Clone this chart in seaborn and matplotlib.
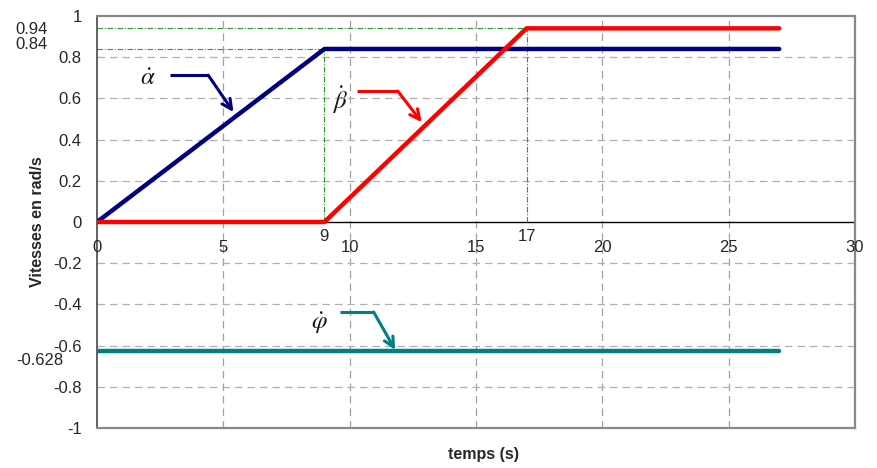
import matplotlib
matplotlib.use("Agg")
import matplotlib.pyplot as plt
import seaborn as sns
import pandas as pd

# ---- data ----
alpha_t = [0, 9, 27]
alpha_v = [0, 0.84, 0.84]
beta_t = [0, 9, 17, 27]
beta_v = [0, 0, 0.94, 0.94]
phi_t = [0, 27]
phi_v = [-0.628, -0.628]
series_names = ["alpha", "beta", "phi"]
series_colors = ["#000080", "#ff0000", "#008080"]
x_ticks = [0, 5, 10, 15, 20, 25, 30]
y_ticks = [-1, -0.8, -0.6, -0.4, -0.2, 0, 0.2, 0.4, 0.6, 0.8, 1]
extra_x = [9, 17]
extra_y_labels = ["0.94", "0.84", "-0.628"]

sns.set_style("white")
plt.rcParams["font.family"] = ["Liberation Sans", "DejaVu Sans"]
plt.rcParams["mathtext.fontset"] = "stix"

df = pd.concat([
    pd.DataFrame({"t": alpha_t, "v": alpha_v, "s": "alpha"}),
    pd.DataFrame({"t": beta_t, "v": beta_v, "s": "beta"}),
    pd.DataFrame({"t": phi_t, "v": phi_v, "s": "phi"}),
])

FS = 12
fig = plt.figure(figsize=(8.78, 4.68), dpi=100)
ax = fig.add_axes([97 / 878, 1 - 428 / 468, (855 - 97) / 878, (428 - 16) / 468])

ax.set_xlim(0, 30)
ax.set_ylim(-1, 1)

# grid
for x in x_ticks[1:-1]:
    ax.axvline(x, color="#a0a0a0", lw=0.9, ls=(0, (6, 4)), zorder=1)
for y in y_ticks[1:-1]:
    if y != 0:
        ax.axhline(y, color="#b0b0b0", lw=0.9, ls=(0, (6, 4)), zorder=1)
ax.axhline(0, color="black", lw=1.0, zorder=2)

# green reference lines
gkw = dict(color="#2e9a2e", lw=0.8, ls=(0, (5, 1.5, 1, 1.5)), zorder=2)
ax.plot([0, 9], [0.84, 0.84], **gkw)
ax.plot([9, 9], [0, 0.84], **gkw)
ax.plot([0, 17.4], [0.94, 0.94], **gkw)
ax.plot([17, 17], [0, 0.94], **gkw)

sns.lineplot(data=df, x="t", y="v", hue="s", palette=dict(zip(series_names, series_colors)),
             linewidth=3.2, legend=False, ax=ax, zorder=3, sort=False)

# spines
for sp in ax.spines.values():
    sp.set_color("#888888")
    sp.set_linewidth(1.6)
ax.spines["left"].set_color("#555555")
ax.spines["left"].set_linewidth(1.3)

ax.set_yticks(y_ticks)
ax.set_yticklabels([("%g" % v) for v in y_ticks])
ax.tick_params(axis="y", length=4, width=1, color="#555555", labelsize=FS, pad=7, direction="out")
ax.set_xticks([])
ax.set_xlabel("")
ax.set_ylabel("Vitesses en rad/s", fontsize=11.5, fontweight="bold", labelpad=6)

# x tick labels along y=0
for x in x_ticks:
    ax.text(x, -0.085, "%d" % x, ha="center", va="top", fontsize=FS)
for x in extra_x:
    ax.text(x, -0.035, "%d" % x, ha="center", va="top", fontsize=FS)

# extra y labels
ax.text(-1.95, 0.935, extra_y_labels[0], ha="right", va="center", fontsize=FS)
ax.text(-1.95, 0.862, extra_y_labels[1], ha="right", va="center", fontsize=FS)
ax.text(-1.35, -0.67, extra_y_labels[2], ha="right", va="center", fontsize=FS)

fig.text((97 + 855) / 2 / 878 + 0.008, 1 - 455 / 468, "temps (s)", ha="center", va="center",
         fontsize=11.5, fontweight="bold")

# annotations
def callout(label, lab_xy, p0, p1, p2, color):
    ax.text(lab_xy[0], lab_xy[1], label, fontsize=18, ha="center", va="center", color="#1a1a1a", zorder=5)
    ax.plot([p0[0], p1[0]], [p0[1], p1[1]], color=color, lw=2.2, solid_capstyle="butt", zorder=4)
    ax.annotate("", xy=p2, xytext=p1,
                arrowprops=dict(arrowstyle="->,head_length=0.7,head_width=0.35", color=color, lw=2.2,
                                shrinkA=0, shrinkB=0), zorder=4)

callout(r"$\dot{\alpha}$", (2.0, 0.70), (2.9, 0.713), (4.4, 0.713), (5.4, 0.534), series_colors[0])
callout(r"$\dot{\beta}$", (9.6, 0.59), (10.3, 0.636), (11.9, 0.636), (12.85, 0.485), series_colors[1])
callout(r"$\dot{\varphi}$", (8.8, -0.49), (9.6, -0.437), (10.95, -0.437), (11.8, -0.621), series_colors[2])

fig.savefig("out.png", dpi=100)
